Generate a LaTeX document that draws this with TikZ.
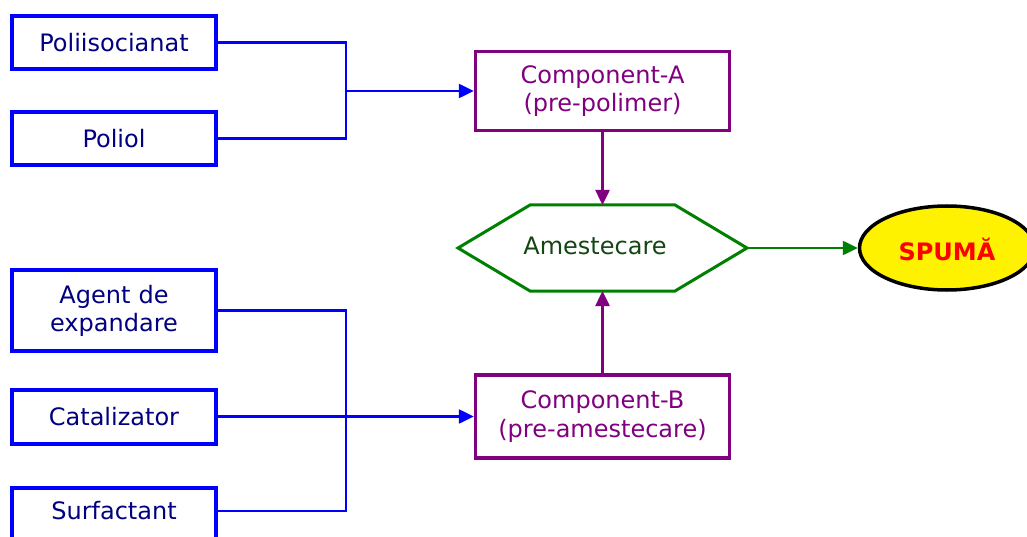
\documentclass[tikz,border=0pt]{standalone}
\usepackage{fontspec}
\setmainfont{DejaVu Sans}
\usetikzlibrary{arrows.meta,shapes.geometric}
\definecolor{boxblue}{RGB}{0,0,255}
\definecolor{txtnavy}{RGB}{0,0,128}
\definecolor{cpurple}{RGB}{128,0,128}
\definecolor{cgreen}{RGB}{0,128,0}
\definecolor{txtgreen}{RGB}{20,70,20}
\tikzset{
  inbox/.style={draw=boxblue, line width=4pt, fill=white, minimum width=204pt, text width=195pt, align=center, text=txtnavy, font=\fontsize{24}{28}\selectfont, inner sep=0pt},
  compbox/.style={draw=cpurple, line width=3.5pt, fill=white, minimum width=254pt, text width=245pt, align=center, text=cpurple, font=\fontsize{24}{28.5}\selectfont, inner sep=0pt},
  blueline/.style={draw=boxblue, line width=2.5pt},
  bluearrow/.style={blueline, -{Triangle[length=15pt,width=14pt]}},
  purplearrow/.style={draw=cpurple, line width=2.5pt, -{Triangle[length=15pt,width=14pt]}},
  greenarrow/.style={draw=cgreen, line width=2.5pt, -{Triangle[length=15pt,width=14pt]}},
}
\begin{document}
\begin{tikzpicture}[x=1pt,y=-1pt]
\useasboundingbox (0,0) rectangle (1027,537);
\clip (0,0) rectangle (1027,537);
% input boxes
\node[inbox, minimum height=53pt] (poli) at (114,42.5) {Poliisocianat};
\node[inbox, minimum height=53pt] (pol) at (114,138.5) {Poliol};
\node[inbox, minimum height=81pt] (agent) at (114,310.5) {Agent de\\expandare};
\node[inbox, minimum height=54pt] (cat) at (114,416.5) {Catalizator};
\node[inbox, minimum height=54pt, anchor=north] (surf) at (114,486) {};
\node[text=txtnavy, font=\fontsize{24}{28}\selectfont] (surft) at (114,511) {Surfactant};
% component boxes
\node[compbox, minimum height=79pt] (ca) at (602.5,91) {Component-A\\(pre-polimer)};
\node[compbox, minimum height=83pt] (cb) at (602.5,416.5) {Component-B\\(pre-amestecare)};
% hexagon
\coordinate (hl) at (458,248);
\coordinate (htl) at (530,205);
\coordinate (htr) at (675,205);
\coordinate (hr) at (747,248);
\coordinate (hbr) at (675,291);
\coordinate (hbl) at (530,291);
\coordinate (htop) at (602.5,205);
\coordinate (hbot) at (602.5,291);
\draw[cgreen, line width=3pt, fill=white, line join=miter] (hl) -- (htl) -- (htr) -- (hr) -- (hbr) -- (hbl) -- cycle;
\node[text=txtgreen, font=\fontsize{24}{28}\selectfont] (mix) at (595,246) {Amestecare};
% foam
\node[ellipse, draw=black, line width=3.5pt, fill=yellow, minimum width=175pt, minimum height=84pt, inner sep=0pt] (foam) at (947,248) {};
\node[text=red, font=\bfseries\fontsize{24}{28}\selectfont] (foamt) at (947,249) {SPUMĂ};
% connectors top
\coordinate (j1) at (346,91);
\draw[blueline] (poli.east) -- (346,42.5) |- (pol.east);
\draw[bluearrow] (j1) -- (ca.west);
% connectors bottom
\draw[blueline] (agent.east) -- (346,310.5) |- (surft.east -| surf.east);
\draw[bluearrow] (cat.east) -- (cb.west);
% component arrows
\draw[purplearrow] (ca.south) -- (htop);
\draw[purplearrow] (cb.north) -- (hbot);
\draw[greenarrow] (hr) -- (foam.west);
\end{tikzpicture}
\end{document}
